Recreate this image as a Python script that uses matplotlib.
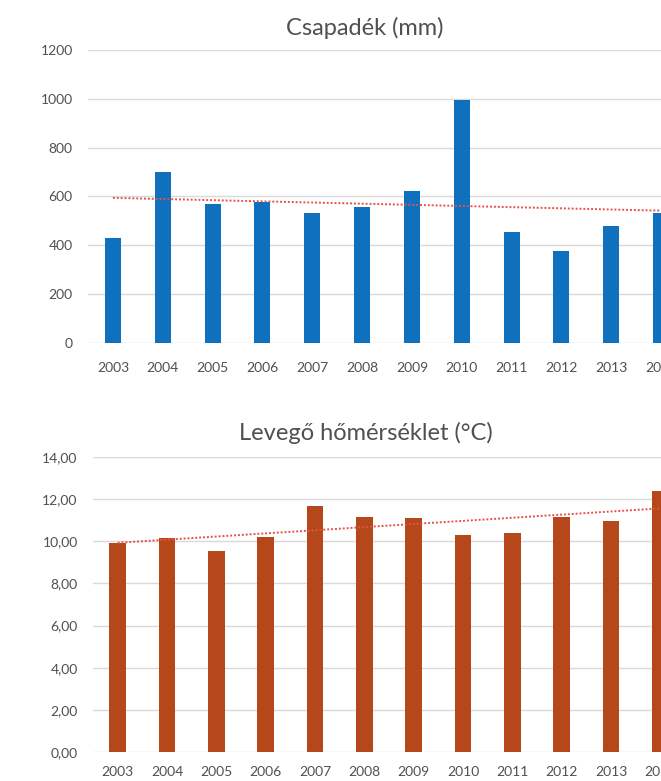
import matplotlib
matplotlib.use("Agg")
import matplotlib.pyplot as plt
import numpy as np

plt.rcParams["font.family"] = ["Lato", "DejaVu Sans"]

years = ["2003", "2004", "2005", "2006", "2007", "2008",
         "2009", "2010", "2011", "2012", "2013", "2014"]
precip_mm = [429, 699, 569, 577, 532, 556, 622, 994, 454, 376, 479, 532]
air_temp_c = [9.92, 10.16, 9.54, 10.20, 11.68, 11.15,
              11.10, 10.30, 10.40, 11.15, 10.96, 12.39]

precip_ticks = [0, 200, 400, 600, 800, 1000, 1200]
temp_ticks = [0, 2, 4, 6, 8, 10, 12, 14]

BLUE = "#0f70be"
BROWN = "#b5471a"
TREND = "#e8504a"
GRID = "#d9d9d9"
TEXT = "#505050"

W, H = 661, 781
fig = plt.figure(figsize=(W / 100, H / 100), dpi=100)


def px_axes(left, top, right, bottom):
    return fig.add_axes([left / W, 1 - bottom / H, (right - left) / W, (bottom - top) / H])


def bar_panel(ax, values, color, ticks, fmt, width, xpad):
    x = np.arange(len(values))
    ax.bar(x, values, width=width, color=color, zorder=2)
    # linear trend line across the categories
    k, b = np.polyfit(x, values, 1)
    ax.plot(x, k * x + b, color=TREND, linestyle=(0, (1, 1)), linewidth=1.4, zorder=3)
    ax.set_xlim(-0.5, len(values) - 0.5)
    ax.set_ylim(ticks[0], ticks[-1])
    ax.set_yticks(ticks)
    ax.set_yticklabels([fmt(t) for t in ticks])
    ax.set_xticks(x)
    ax.set_xticklabels(years)
    ax.grid(axis="y", color=GRID, linewidth=1.0, zorder=0)
    for s in ax.spines.values():
        s.set_visible(False)
    ax.tick_params(length=0, colors=TEXT, labelsize=10)
    ax.tick_params(axis="y", pad=11)
    ax.tick_params(axis="x", pad=xpad)


ax1 = px_axes(88, 50, 686, 343)
bar_panel(ax1, precip_mm, BLUE, precip_ticks, lambda t: f"{t}", 0.32, 14)
fig.text(365 / W, 1 - 28 / H, "Csapadék (mm)", ha="center", va="center",
         fontsize=17, color=TEXT)

ax2 = px_axes(93, 457, 685, 752)
bar_panel(ax2, air_temp_c, BROWN, temp_ticks, lambda t: f"{t:.2f}".replace(".", ","), 0.34, 10)
fig.text(366 / W, 1 - 433 / H, "Levegő hőmérséklet (°C)", ha="center", va="center",
         fontsize=17, color=TEXT)

fig.savefig("out.png", dpi=100)
